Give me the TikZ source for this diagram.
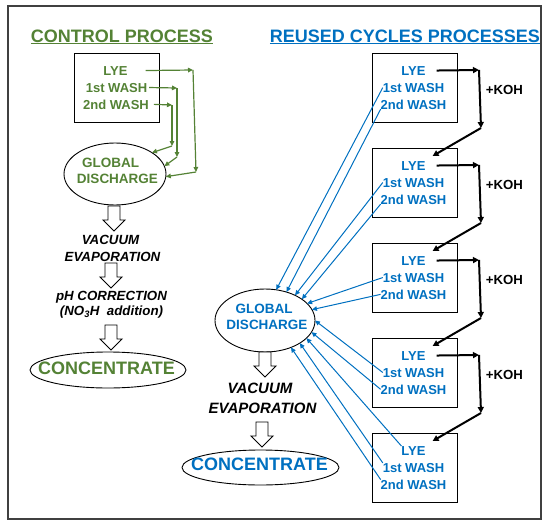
\documentclass[tikz,border=0pt]{standalone}
\usepackage{fontspec}
\setmainfont{Liberation Sans}
\usetikzlibrary{arrows.meta,shapes.geometric}
\definecolor{cgreen}{RGB}{84,130,53}
\definecolor{cblue}{RGB}{0,112,192}
\definecolor{cframe}{RGB}{64,64,64}
\tikzset{
  bdown/.pic={\draw[black, line width=0.9pt, fill=white] (-6,0) -- (6,0) -- (6,14) -- (11,14) -- (0,25) -- (-11,14) -- (-6,14) -- cycle;}
}
\begin{document}
\begin{tikzpicture}[x=1pt,y=-1pt,
  every node/.style={inner sep=0pt, outer sep=0pt},
  title/.style={font=\fontsize{18}{21}\selectfont\bfseries, anchor=base},
  boxtxt/.style={font=\fontsize{13}{16}\selectfont\bfseries, anchor=base},
  gdtxt/.style={font=\fontsize{13.5}{16}\selectfont\bfseries, anchor=base},
  conctxt/.style={font=\fontsize{18}{21}\selectfont\bfseries, anchor=base},
  stepL/.style={font=\fontsize{13.3}{16}\selectfont\bfseries\itshape, anchor=base},
  stepR/.style={font=\fontsize{15}{18}\selectfont\bfseries\itshape, anchor=base},
  kohtxt/.style={font=\fontsize{13.2}{16}\selectfont\bfseries},
  procbox/.style={draw=black, line width=1pt, minimum width=85pt, minimum height=69pt},
  oval/.style={draw=black, ellipse, line width=0.9pt},
  garr/.style={cgreen, line width=1.2pt, -{Triangle[length=5pt,width=4.5pt]}},
  barr/.style={cblue, line width=1pt, -{Triangle[length=5pt,width=4.5pt]}},
  karr/.style={black, line width=2pt, -{Triangle[length=6pt,width=6pt]}}
]
\useasboundingbox (0,0) rectangle (550,528);
\draw[cframe, line width=1.3pt] (8,6) rectangle (541,519);

% ---------------- left: control process
\node[title, text=cgreen] (t1) at (122,42) {CONTROL PROCESS};
\draw[cgreen, line width=1.3pt] ([yshift=-1.8pt]t1.base west) -- ([yshift=-1.8pt]t1.base east);

\node[procbox] (lb) at (116.5,87.5) {};
\node[boxtxt, text=cgreen] (ll) at (115.5,75) {LYE};
\node[boxtxt, text=cgreen] (lw1) at (116.5,92) {1st WASH};
\node[boxtxt, text=cgreen] (lw2) at (116,109) {2nd WASH};

\node[oval, minimum width=102pt, minimum height=62pt] (lgd) at (115,174) {};
\node[gdtxt, text=cgreen] (lgd1) at (110.5,167) {GLOBAL};
\node[gdtxt, text=cgreen] (lgd2) at (117.5,183) {DISCHARGE};

\coordinate (g1b) at (193,70);
\coordinate (g1c) at (196,172);
\coordinate (g2b) at (177,88);
\coordinate (g2c) at (177,157);
\coordinate (g3b) at (172,105);
\coordinate (g3c) at (172,146);
\draw[garr] ([xshift=18pt]ll.east) -- (g1b);
\draw[garr] (g1b) -- (g1c);
\draw[garr] (g1c) -- (lgd.-3);
\draw[garr] ([xshift=2pt]lw1.east) -- (g2b);
\draw[garr] (g2b) -- (g2c);
\draw[garr] (g2c) -- (lgd.9);
\draw[garr] ([xshift=5pt]lw2.east) -- (g3b);
\draw[garr] (g3b) -- (g3c);
\draw[garr] (g3c) -- (lgd.30);

\pic at (114,206) {bdown};
\node[stepL] (lv1) at (110.5,244) {VACUUM};
\node[stepL] (lv2) at (112.5,261) {EVAPORATION};
\pic at (111,263) {bdown};
\node[stepL] (lp1) at (111.5,300) {pH CORRECTION};
\node[stepL] (lp2) at (111.5,315) {(NO\textsubscript{3}H\ \ addition)};
\pic at (111,325) {bdown};
\node[oval, minimum width=156pt, minimum height=36pt] (lc) at (108,370) {};
\node[conctxt, text=cgreen] (lct) at (106.5,374.5) {CONCENTRATE};

% ---------------- right: reused cycles
\node[title, text=cblue] (t2) at (405,42) {REUSED CYCLES PROCESSES};
\draw[cblue, line width=1.3pt] ([yshift=-1.8pt]t2.base west) -- ([yshift=-1.8pt]t2.base east);

\foreach \i/\T in {1/53,2/148,3/243,4/338,5/433}{
  \node[procbox] (b\i) at (414.5,{\T+34.5}) {};
  \node[boxtxt, text=cblue] (bl\i) at (413.5,{\T+22}) {LYE};
  \node[boxtxt, text=cblue] (bw\i) at (413.5,{\T+39}) {1st WASH};
  \node[boxtxt, text=cblue] (bv\i) at (413.5,{\T+56}) {2nd WASH};
}
\foreach \i/\j/\T in {1/2/53,2/3/148,3/4/243,4/5/338}{
  \coordinate (ka\i) at (479,{\T+17});
  \coordinate (kb\i) at (481,{\T+75});
  \draw[karr] ([xshift=11pt]bl\i.east) -- (ka\i);
  \draw[karr] (ka\i) -- (kb\i);
  \draw[karr] (kb\i) -- ([shift={(7,-5)}]bl\j.north east);
  \node[kohtxt] (koh\i) at (504.5,{\T+37}) {+KOH};
}

\node[oval, minimum width=100pt, minimum height=63pt] (rgd) at (265,320.5) {};
\node[gdtxt, text=cblue] (rgd1) at (264,313) {GLOBAL};
\node[gdtxt, text=cblue] (rgd2) at (267,329) {DISCHARGE};

\draw[barr] (bw1.west) -- (rgd.70);
\draw[barr] (bv1.south west) -- (rgd.53);
\draw[barr] (bw2.west) -- (rgd.40);
\draw[barr] (bv2.south west) -- (rgd.30);
\draw[barr] (bw3.west) -- (rgd.22);
\draw[barr] (bv3.west) -- (rgd.13);
\draw[barr] (bw4.west) -- (rgd.0);
\draw[barr] (bv4.west) -- (rgd.-14);
\draw[barr] (bl5.north west) -- (rgd.-23);
\draw[barr] (bw5.north west) -- (rgd.-33);
\draw[barr] (bv5.north west) -- (rgd.-46);

\pic at (265,352) {bdown};
\node[stepR] (rv1) at (260,393) {VACUUM};
\node[stepR] (rv2) at (262.5,413) {EVAPORATION};
\pic at (262,422) {bdown};
\node[oval, minimum width=157pt, minimum height=35pt] (rc) at (260.5,467.5) {};
\node[conctxt, text=cblue] (rct) at (259.5,470.5) {CONCENTRATE};
\end{tikzpicture}
\end{document}
